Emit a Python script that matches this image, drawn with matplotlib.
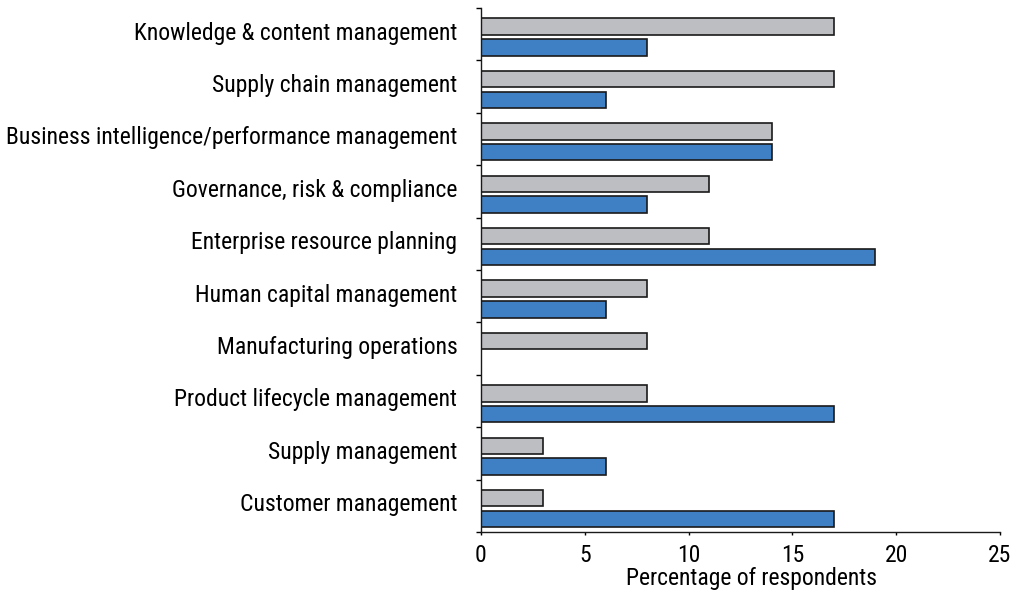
import numpy as np
import matplotlib
matplotlib.use('Agg')
import matplotlib.pyplot as plt
from matplotlib import font_manager

# pick a narrow sans if one is around
names = set(f.name for f in font_manager.fontManager.ttflist)
family = [f for f in ['Roboto Condensed', 'Liberation Sans Narrow', 'Liberation Sans', 'DejaVu Sans'] if f in names]
plt.rcParams['font.family'] = family

categories = ['Knowledge & content management',
              'Supply chain management',
              'Business intelligence/performance management',
              'Governance, risk & compliance',
              'Enterprise resource planning',
              'Human capital management',
              'Manufacturing operations',
              'Product lifecycle management',
              'Supply management',
              'Customer management']
gray_vals = [17, 17, 14, 11, 11, 8, 8, 8, 3, 3]
blue_vals = [8, 6, 14, 8, 19, 6, 0, 17, 6, 17]
xticks = [0, 5, 10, 15, 20, 25]

fig = plt.figure(figsize=(10.29, 5.94), dpi=100)
ax = fig.add_axes([0.4674, 0.1044, 0.9718 - 0.4674, 0.9865 - 0.1044])

y = np.arange(len(categories))
h = 0.313
ax.barh(y - 0.146, gray_vals, height=h, color='#bdbec2', edgecolor='#1a1a1a', linewidth=1.2)
ax.barh(y + 0.253, blue_vals, height=h, color='#3f7fc4', edgecolor='#1a1a1a', linewidth=1.2)

ax.set_xlim(0, 25)
ax.set_ylim(len(categories) - 0.5, -0.5)
ax.set_xticks(xticks)
ax.set_xticklabels([str(t) for t in xticks])
ax.set_yticks(y - 0.07)
ax.set_yticklabels(categories)
ax.set_yticks(np.arange(len(categories) + 1) - 0.5, minor=True)

ax.tick_params(axis='y', which='major', length=0, pad=17, labelsize=17)
ax.tick_params(axis='y', which='minor', length=3.4, width=1.0, direction='out')
ax.tick_params(axis='x', length=2.5, width=1.0, direction='out', pad=6, labelsize=17)

for s in ['top', 'right']:
    ax.spines[s].set_visible(False)
for s in ['left', 'bottom']:
    ax.spines[s].set_linewidth(1.0)
    ax.spines[s].set_color('#1a1a1a')

ax.set_xlabel('Percentage of respondents', fontsize=17)
ax.xaxis.set_label_coords(0.522, -0.066)

fig.savefig('out.png', dpi=100)
